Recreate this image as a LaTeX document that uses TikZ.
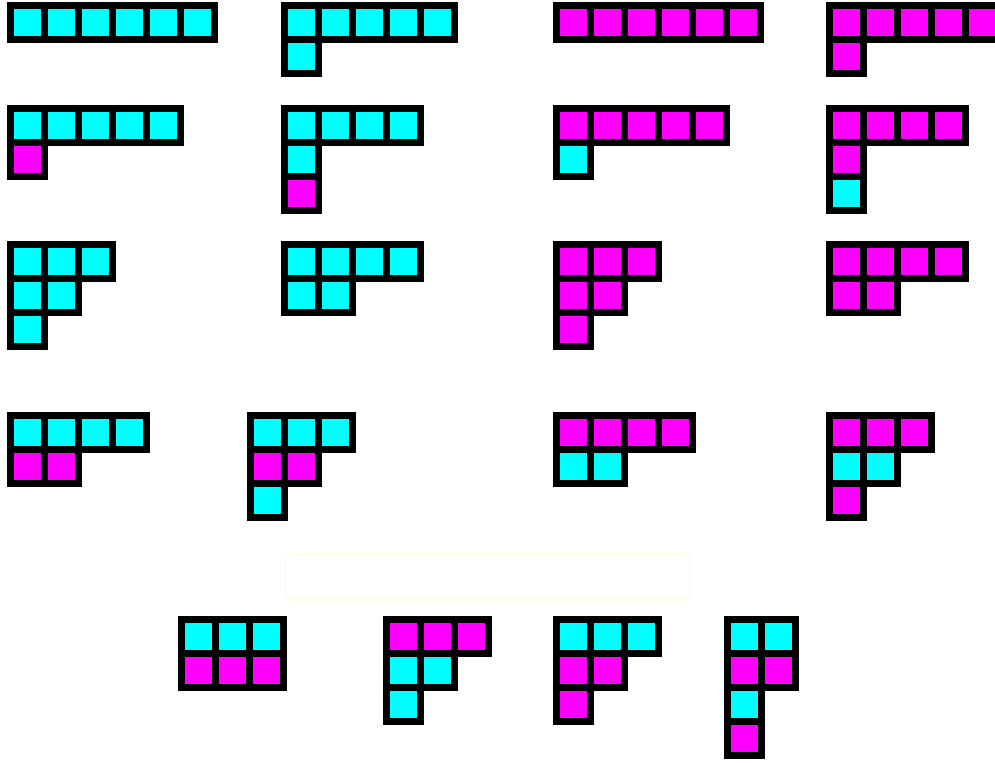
\documentclass[tikz,border=0pt]{standalone}
\usetikzlibrary{positioning}
\definecolor{Cy}{RGB}{0,255,255}
\definecolor{Mg}{RGB}{255,0,255}
\definecolor{Faint}{RGB}{250,250,226}
% one diagram: left x, top y, rows as length/colour
\newcommand\yd[3]{\foreach \n/\col [count=\r from 0] in {#3}
  \foreach \i in {1,...,\n}
    \draw[cell,fill=\col] ({#1+(\i-1)*34},{#2+\r*34}) rectangle +(34,34);}

\begin{document}
\begin{tikzpicture}[x=.5pt,y=-.5pt,
 cell/.style={draw=black,line width=3.5pt},
 blank/.style={draw=Faint,line width=.6pt,minimum width=202pt,minimum height=22pt,inner sep=0pt}]
\useasboundingbox (0,0) rectangle (995,762);
% first row
\yd{10}{5}{6/Cy}
\yd{284}{5}{5/Cy,1/Cy}
\yd{556}{5}{6/Mg}
\yd{829}{5}{5/Mg,1/Mg}
% second row
\yd{10}{108}{5/Cy,1/Mg}
\yd{284}{108}{4/Cy,1/Cy,1/Mg}
\yd{556}{108}{5/Mg,1/Cy}
\yd{829}{108}{4/Mg,1/Mg,1/Cy}
% third row
\yd{10}{244}{3/Cy,2/Cy,1/Cy}
\yd{284}{244}{4/Cy,2/Cy}
\yd{556}{244}{3/Mg,2/Mg,1/Mg}
\yd{829}{244}{4/Mg,2/Mg}
% fourth row
\yd{10}{415}{4/Cy,2/Mg}
\yd{250}{415}{3/Cy,2/Mg,1/Cy}
\yd{556}{415}{4/Mg,2/Cy}
\yd{829}{415}{3/Mg,2/Cy,1/Mg}
% empty box
\node[blank] (gap) at (487.5,576.5) {};
% last row
\yd{181}{619}{3/Cy,3/Mg}
\yd{386}{619}{3/Mg,2/Cy,1/Cy}
\yd{556}{619}{3/Cy,2/Mg,1/Mg}
\yd{727}{619}{2/Cy,2/Mg,1/Cy,1/Mg}
\end{tikzpicture}
\end{document}
